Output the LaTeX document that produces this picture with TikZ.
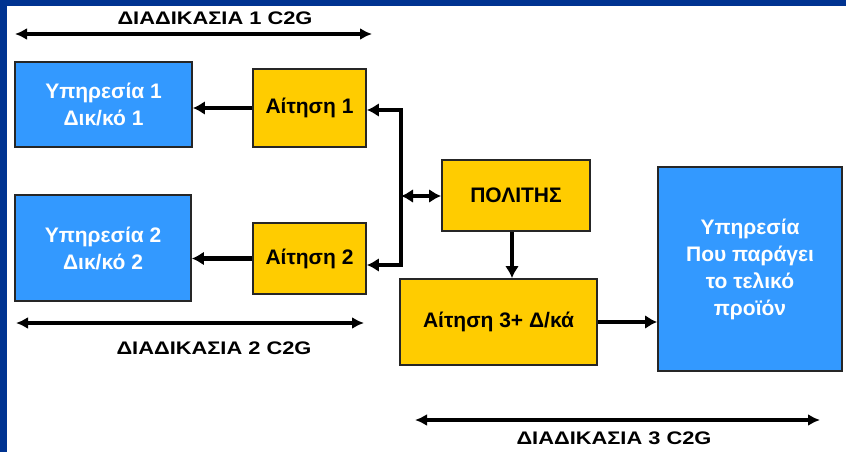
\documentclass[tikz,border=0pt]{standalone}
\usepackage{fontspec}
\setmainfont{Liberation Sans}
\usepackage{tikz}
\usetikzlibrary{arrows.meta,calc}

\definecolor{slideblue}{RGB}{0,51,145}
\definecolor{boxblue}{RGB}{51,153,255}
\definecolor{boxyellow}{RGB}{255,204,0}
\newcommand{\widetitle}[1]{\scalebox{1.2}[1]{#1}}

\begin{document}
\begin{tikzpicture}[x=1pt, y=-1pt, ->, >={Latex[length=12pt,width=14pt]},
    font=\bfseries\fontsize{21}{27}\selectfont]
      \tikzstyle{service}=[rectangle, draw=black!85, line width=1.8pt, fill=boxblue,
        text=white, align=center, inner sep=0pt]
      \tikzstyle{request}=[rectangle, draw=black!85, line width=1.8pt, fill=boxyellow,
        text=black, align=center, inner sep=0pt]
      \tikzstyle{link}=[line width=4.5pt]
      \tikzstyle{process}=[<->, line width=3.4pt, >={Latex[length=12pt,width=12pt]}]
      \tikzstyle{title}=[font=\bfseries\fontsize{18.2}{20}\selectfont, inner sep=0pt]
      \useasboundingbox (0,0) rectangle (846,452);
      % slide frame
      \fill[slideblue] (0,0) rectangle (846,6);
      \fill[slideblue] (0,0) rectangle (7,452);
      % boxes
      \node[service, minimum width=177pt, minimum height=85pt] (srv1) at (103.5,104.5) {Υπηρεσία 1\\Δικ/κό 1};
      \node[request, minimum width=113pt, minimum height=78pt] (req1) at (309.5,108) {Αίτηση 1};
      \node[service, minimum width=176pt, minimum height=106pt] (srv2) at (103,248) {Υπηρεσία 2\\Δικ/κό 2};
      \node[request, minimum width=113pt, minimum height=71pt] (req2) at (309.5,258.5) {Αίτηση 2};
      \node[request, minimum width=148pt, minimum height=71pt] (citizen) at (516,195.5) {ΠΟΛΙΤΗΣ};
      \node[request, minimum width=197pt, minimum height=86pt] (req3) at (498.5,322) {Αίτηση 3+ Δ/κά};
      \node[service, minimum width=184pt, minimum height=204pt] (final) at (750,269) {Υπηρεσία\\Που παράγει\\το τελικό\\προϊόν};
      % bus between citizen and requests
      \coordinate (busT) at (401,110);
      \coordinate (busB) at (401,265);
      \coordinate (busM) at (401,196);
      \draw[link, -, line cap=rect] (busT) -- (busB);
      \draw[link] (busT) -- (busT -| req1.east);
      \draw[link] (busB) -- (busB -| req2.east);
      \draw[link] (req1.west) -- (srv1.east |- req1.west);
      \draw[link] (req2.west) -- (srv2.east |- req2.west);
      \draw[link, <->] (busM) -- (busM -| citizen.west);
      \draw[link] ($(citizen.south)+(-4,0)$) -- ($(citizen.south |- req3.north)+(-4,0)$);
      \draw[link] (req3.east) -- (req3.east -| final.west);
      % process spans
      \coordinate (p1a) at (15,34);   \coordinate (p1b) at (372,34);
      \coordinate (p2a) at (16,323);  \coordinate (p2b) at (364,323);
      \coordinate (p3a) at (415,420); \coordinate (p3b) at (820,420);
      \draw[process] (p1a) -- (p1b);
      \draw[process] (p2a) -- (p2b);
      \draw[process] (p3a) -- (p3b);
      \node[title] (t1) at (215,18) {\widetitle{ΔΙΑΔΙΚΑΣΙΑ 1 C2G}};
      \node[title] (t2) at (214,348) {\widetitle{ΔΙΑΔΙΚΑΣΙΑ 2 C2G}};
      \node[title] (t3) at (614,438) {\widetitle{ΔΙΑΔΙΚΑΣΙΑ 3 C2G}};
    \end{tikzpicture}
\end{document}
